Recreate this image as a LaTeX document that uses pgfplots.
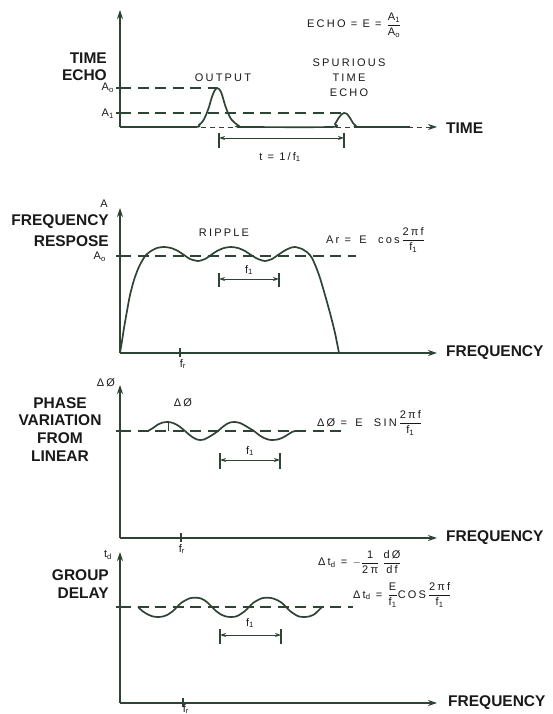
\documentclass[border=0pt]{standalone}
\usepackage{fontspec}
\setmainfont{Liberation Sans}
\newfontfamily\lbl[LetterSpace=20]{Liberation Sans}
\usepackage{amsmath}
\usepackage{pgfplots}
\pgfplotsset{compat=1.18}
\usetikzlibrary{arrows.meta}

\definecolor{ink}{RGB}{45,68,52}
\newcommand{\sm}{\lbl\fontsize{11}{13}\selectfont}
\newcommand{\bg}{\bfseries\fontsize{15.5}{18}\selectfont}
\newcommand{\fr}[2]{\ensuremath{\dfrac{\text{#1}}{\text{#2}}}}
\newcommand{\sub}[1]{\textsubscript{#1}}

\pgfplotsset{
  panel/.style={
    x=1pt, y=1pt, xmin=0, xmax=317, ymin=0,
    anchor=south west, enlargelimits=false, clip=false,
    axis lines=left, xtick=\empty, ytick=\empty,
    axis line style={ink, line width=1.3pt, -{Stealth[length=9pt,width=6pt]}},
  },
  sig/.style={ink, line width=1.7pt, no marks, smooth, tension=0.4},
  lvl/.style={ink, line width=1.4pt, no marks, dash pattern=on 11pt off 6.5pt},
}
\tikzset{
  brk/.style={ink, line width=1.2pt},
  dim/.style={ink, line width=0.9pt, {Stealth[length=6pt,width=4pt]}-{Stealth[length=6pt,width=4pt]}},
}

\begin{document}
\begin{tikzpicture}
\useasboundingbox (0,0) rectangle (553pt,714pt);

% ---------- time echo ----------
\begin{axis}[panel, at={(120pt,587pt)}, ymax=117,
  x axis line style={line width=0.8pt, dash pattern=on 5pt off 4pt}]
\addplot[lvl] coordinates {(0,39) (97,39)};
\addplot[lvl] coordinates {(0,14) (221,14)};
\addplot[sig] coordinates {
  (0,0) (74,0) (79,2) (83,6) (86,12) (89,20) (91,27) (93,33) (95,37) (97,39)
  (99,38) (101,35) (103,29) (105,22) (108,14) (111,8) (115,4) (119,1) (123,0)
  (212,0) (215,3) (218,8) (221,12) (224,14) (227,13) (230,9) (233,4) (236,1)
  (238,0) (290,0)};
\draw[brk] (axis cs:-4,39) -- (axis cs:0,39);
\draw[brk] (axis cs:-4,14) -- (axis cs:0,14);
\draw[brk] (axis cs:99,-6) -- (axis cs:99,-21);
\draw[brk] (axis cs:224,-6) -- (axis cs:224,-21);
\draw[dim] (axis cs:99,-11) -- (axis cs:224,-11);
\end{axis}

% ---------- frequency response ----------
\begin{axis}[panel, at={(120pt,361pt)}, ymax=145]
\addplot[lvl] coordinates {(0,97) (236,97)};
\addplot[sig] coordinates {
  (0,0) (2,12) (4,25) (7,42) (10,58) (14,73) (18,84) (22,92) (26,98) (31,102)
  (37,105) (44,106) (51,105) (58,102) (64,98) (70,94) (78,92) (85,94) (91,98)
  (97,102) (104,105) (111,106) (118,105) (125,102) (131,98) (138,94) (145,92)
  (152,94) (158,98) (164,102) (170,105) (175,106) (182,104) (188,100) (192,95)
  (196,86) (200,75) (205,58) (210,40) (215,20) (219,0)};
\draw[brk] (axis cs:-4,97) -- (axis cs:0,97);
\draw[brk] (axis cs:60,-4) -- (axis cs:60,5);
\draw[brk] (axis cs:99,66) -- (axis cs:99,80);
\draw[brk] (axis cs:159,66) -- (axis cs:159,80);
\draw[dim] (axis cs:99,74) -- (axis cs:159,74);
\end{axis}

% ---------- phase variation ----------
\begin{axis}[panel, at={(120pt,176pt)}, ymax=153]
\addplot[lvl] coordinates {(0,107) (227,107)};
\addplot[sig] coordinates {
  (28,107) (33,110) (38,113.5) (43,115.5) (48,116) (53,115) (58,112.5) (62,109.5)
  (65,107) (69,103.5) (73,100.5) (77,98.5) (80,98) (84,98.5) (88,100.5) (93,103.5)
  (98,107) (102,110.5) (106,113.5) (110,115.5) (115,116) (120,115) (124,113)
  (129,110) (134,107) (139,103) (144,100) (149,98.3) (153,98) (158,98.6)
  (163,100.5) (168,103.5) (172,106) (175,107)};
\draw[brk] (axis cs:-4,107) -- (axis cs:0,107);
\draw[brk, line width=0.9pt] (axis cs:48,107) -- (axis cs:48,116);
\draw[brk] (axis cs:61,-4) -- (axis cs:61,5);
\draw[brk] (axis cs:100,69) -- (axis cs:100,85);
\draw[brk] (axis cs:160,69) -- (axis cs:160,85);
\draw[dim] (axis cs:100,78) -- (axis cs:160,78);
\end{axis}

% ---------- group delay ----------
\begin{axis}[panel, at={(120pt,11pt)}, ymax=151]
\addplot[lvl] coordinates {(0,96) (233,96)};
\addplot[sig] coordinates {
  (18,96) (23,91.5) (28,88.5) (33,86.5) (38,86) (43,86.5) (48,88.5) (53,92)
  (57,96) (61,100) (66,103) (70,104.8) (75,105.3) (80,104.8) (84,103) (88,100)
  (92,96) (96,92) (101,88.5) (106,86.5) (111,86) (116,86.5) (120,88.5) (125,92)
  (129,96) (133,100) (138,103) (142,104.8) (147,105.3) (152,104.8) (157,103)
  (162,100) (166,96) (170,92) (175,88.5) (179,86.5) (184,86) (189,86.5)
  (194,88.5) (198,92) (202,96)};
\draw[brk] (axis cs:-4,96) -- (axis cs:0,96);
\draw[brk] (axis cs:63,-4) -- (axis cs:63,5);
\draw[brk] (axis cs:100,59) -- (axis cs:100,74);
\draw[brk] (axis cs:161,59) -- (axis cs:161,74);
\draw[dim] (axis cs:100,68) -- (axis cs:161,68);
\end{axis}

% ---------- labels (page pixel positions) ----------
\begin{scope}[shift={(0,714pt)}, x=1pt, y=-1pt, every node/.style={inner sep=0pt, text=black!90}]
% panel 1
\node[anchor=east, font=\bg] at (107,58) {TIME};
\node[anchor=east, font=\bg] at (107,75) {ECHO};
\node[anchor=east, font=\sm] at (114,88) {A\sub{o}};
\node[anchor=east, font=\sm] at (114,114) {A\sub{1}};
\node[font=\sm] at (223,78) {OUTPUT};
\node[font=\sm] at (349,63) {SPURIOUS};
\node[font=\sm] at (349,78) {TIME};
\node[font=\sm] at (349,93) {ECHO};
\node[anchor=west, font=\bg] at (446,128) {TIME};
\node[anchor=west, font=\sm] at (307,25) {ECHO = E = \fr{A\sub{1}}{A\sub{o}}};
\node[font=\sm] at (280,157) {t = 1/f\sub{1}};
% panel 2
\node[anchor=east, font=\bg] at (109,222) {FREQUENCY};
\node[anchor=east, font=\bg] at (109,241) {RESPOSE};
\node[font=\sm] at (104,204) {A};
\node[anchor=east, font=\sm] at (106,257) {A\sub{o}};
\node[font=\sm] at (224,233) {RIPPLE};
\node[anchor=west, font=\sm] at (326,240) {Ar =\; E\;\; cos\,\fr{2πf}{f\sub{1}}};
\node[anchor=west, font=\bg] at (446,353) {FREQUENCY};
\node[font=\sm] at (249,270) {f\sub{1}};
\node[font=\sm] at (183,364) {f\sub{r}};
% panel 3
\node[font=\bg] at (60,403) {PHASE};
\node[font=\bg] at (60,420) {VARIATION};
\node[font=\bg] at (60,438) {FROM};
\node[font=\bg] at (60,456) {LINEAR};
\node[font=\sm] at (106,383) {ΔØ};
\node[font=\sm] at (183,403) {ΔØ};
\node[anchor=west, font=\sm] at (317,423) {ΔØ =\; E\;\; SIN\,\fr{2πf}{f\sub{1}}};
\node[anchor=west, font=\bg] at (446,538) {FREQUENCY};
\node[font=\sm] at (250,451) {f\sub{1}};
\node[font=\sm] at (182,549) {f\sub{r}};
% panel 4
\node[anchor=east, font=\bg] at (109,575) {GROUP};
\node[anchor=east, font=\bg] at (109,593) {DELAY};
\node[font=\sm] at (108,555) {t\sub{d}};
\node[anchor=west, font=\sm] at (318,562) {Δt\sub{d} = \ensuremath{-}\fr{1}{2π}\;\fr{dØ}{df}};
\node[anchor=west, font=\sm] at (353,595) {Δt\sub{d} = \fr{E}{f\sub{1}}COS\,\fr{2πf}{f\sub{1}}};
\node[anchor=west, font=\bg] at (448,703) {FREQUENCY};
\node[font=\sm] at (250,623) {f\sub{1}};
\node[font=\sm] at (186,709) {f\sub{r}};
\end{scope}
\end{tikzpicture}
\end{document}
